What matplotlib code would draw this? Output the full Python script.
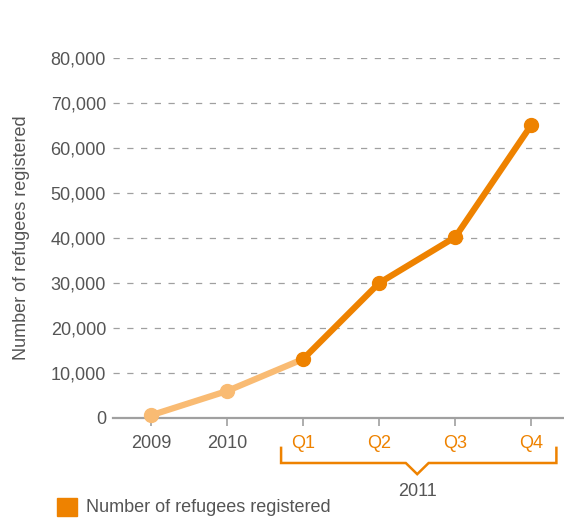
import matplotlib.pyplot as plt
import matplotlib.transforms as mtransforms
from matplotlib.patches import Rectangle

plt.rcParams['font.family'] = ['Liberation Sans', 'DejaVu Sans']

# refugees registered per period
periods = ['2009', '2010', 'Q1', 'Q2', 'Q3', 'Q4']
refugees = [600, 6000, 13100, 30000, 40200, 65100]
year_group = '2011'
series_name = 'Number of refugees registered'

light = '#F9BB73'
dark = '#EE8200'
grey_txt = '#555555'
grey_ax = '#A0A0A0'
fs = 13

fig = plt.figure(figsize=(5.64, 5.18), dpi=100)
ax = fig.add_axes([113 / 564, 100 / 518, 451 / 564, 360 / 518])

x = list(range(len(periods)))
# annual part of the series in a light tone, quarters of 2011 in the full orange
ax.plot(x[:3], refugees[:3], color=light, lw=4.5, solid_capstyle='round', zorder=3, clip_on=False)
ax.plot(x[:2], refugees[:2], 'o', color=light, ms=10, zorder=4, clip_on=False)
ax.plot(x[2:], refugees[2:], color=dark, lw=4.5, solid_capstyle='round', zorder=3, clip_on=False)
ax.plot(x[2:], refugees[2:], 'o', color=dark, ms=10, zorder=4, clip_on=False)

ax.set_xlim(-0.5, 5.43)
ax.set_ylim(0, 80000)
ax.set_yticks(range(0, 80001, 10000))
ax.set_yticklabels([f'{v:,}' for v in range(0, 80001, 10000)])
for v in range(10000, 80001, 10000):
    ax.axhline(v, color=grey_ax, lw=0.9, ls=(0, (5, 6)), zorder=1)

ax.set_xticks(x)
ax.set_xticklabels(periods)
for lbl in ax.get_xticklabels()[2:]:
    lbl.set_color(dark)
for lbl in ax.get_xticklabels()[:2]:
    lbl.set_color(grey_txt)

for s in ['top', 'right', 'left']:
    ax.spines[s].set_visible(False)
ax.spines['bottom'].set_color(grey_ax)
ax.spines['bottom'].set_linewidth(1.6)
ax.tick_params(axis='x', length=6, width=1.2, color=grey_ax, pad=6, labelsize=fs)
ax.tick_params(axis='y', length=0, pad=5, labelsize=fs, labelcolor=grey_txt)
ax.set_ylabel('Number of refugees registered', fontsize=fs, color=grey_txt, labelpad=15)

# bracket grouping the quarters of 2011
tr = mtransforms.blended_transform_factory(ax.transData, ax.transAxes)
bx = [1.71, 1.71, 3.35, 3.5, 3.65, 5.33, 5.33]
by = [-0.083, -0.125, -0.125, -0.156, -0.125, -0.125, -0.083]
ax.plot(bx, by, color=dark, lw=1.8, transform=tr, clip_on=False, solid_joinstyle='miter')
ax.text(3.5, -0.205, year_group, transform=tr, ha='center', va='center', fontsize=fs, color=grey_txt)

# legend
fig.patches.append(Rectangle((57 / 564, 2 / 518), 20 / 564, 18 / 518, transform=fig.transFigure,
                             color=dark, figure=fig))
fig.text(86 / 564, 10 / 518, series_name, fontsize=fs, color=grey_txt, va='center', ha='left')

fig.savefig('out.png', dpi=100)
